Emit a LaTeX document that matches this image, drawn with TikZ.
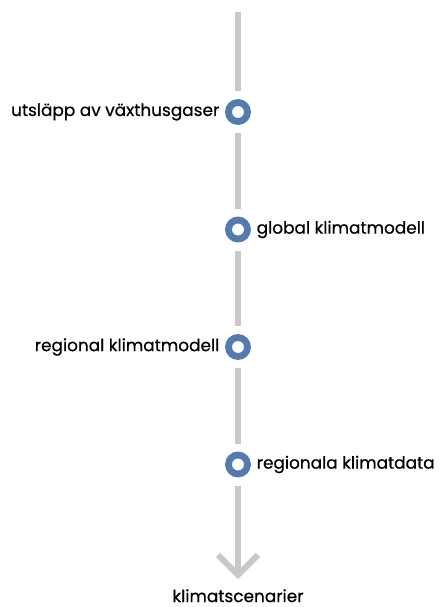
\documentclass[tikz,border=0pt]{standalone}
\usepackage{fontspec}
\setmainfont{Poppins}[FakeBold=0.5]
\usetikzlibrary{positioning}
\usetikzlibrary{arrows.meta}

\definecolor{ringblue}{RGB}{84,122,176}
\definecolor{trackgray}{RGB}{200,200,200}

\tikzset{
    stage/.style={circle, draw=ringblue, line width=6.8pt, fill=white, minimum size=19pt, inner sep=0pt, outer sep=0pt},
    track/.style={draw=trackgray, line width=6pt},
    txt/.style={inner sep=0pt, font=\fontsize{16.9}{19}\selectfont}
}

\begin{document}
\begin{tikzpicture}[x=1pt, y=-1pt]
    \useasboundingbox (0,0) rectangle (439,607);

    % stages along the track
    \node[stage] (emis) at (238,112) {};
    \node[stage] (gcm) at (238,229.5) {};
    \node[stage] (rcm) at (238,347) {};
    \node[stage] (rdata) at (238,464.5) {};
    \coordinate (top) at (238,12);
    \coordinate (tip) at (238,579);

    \node[txt, left=9pt of emis] {utsläpp av växthusgaser};
    \node[txt, right=9pt of gcm] {global klimatmodell};
    \node[txt, left=9pt of rcm] {regional klimatmodell};
    \node[txt, right=9pt of rdata] {regionala klimatdata};
    \node[txt, below=10pt of tip] (scen) {klimatscenarier};

    % the track itself
    \draw[track, shorten >=11.5pt] (top) -- (emis);
    \draw[track, shorten <=11.5pt, shorten >=11.5pt] (emis) -- (gcm);
    \draw[track, shorten <=11.5pt, shorten >=11.5pt] (gcm) -- (rcm);
    \draw[track, shorten <=11.5pt, shorten >=11.5pt] (rcm) -- (rdata);
    \draw[track, shorten <=11.5pt, -{Straight Barb[length=20pt, width=40pt]}] (rdata) -- (tip);
\end{tikzpicture}
\end{document}
